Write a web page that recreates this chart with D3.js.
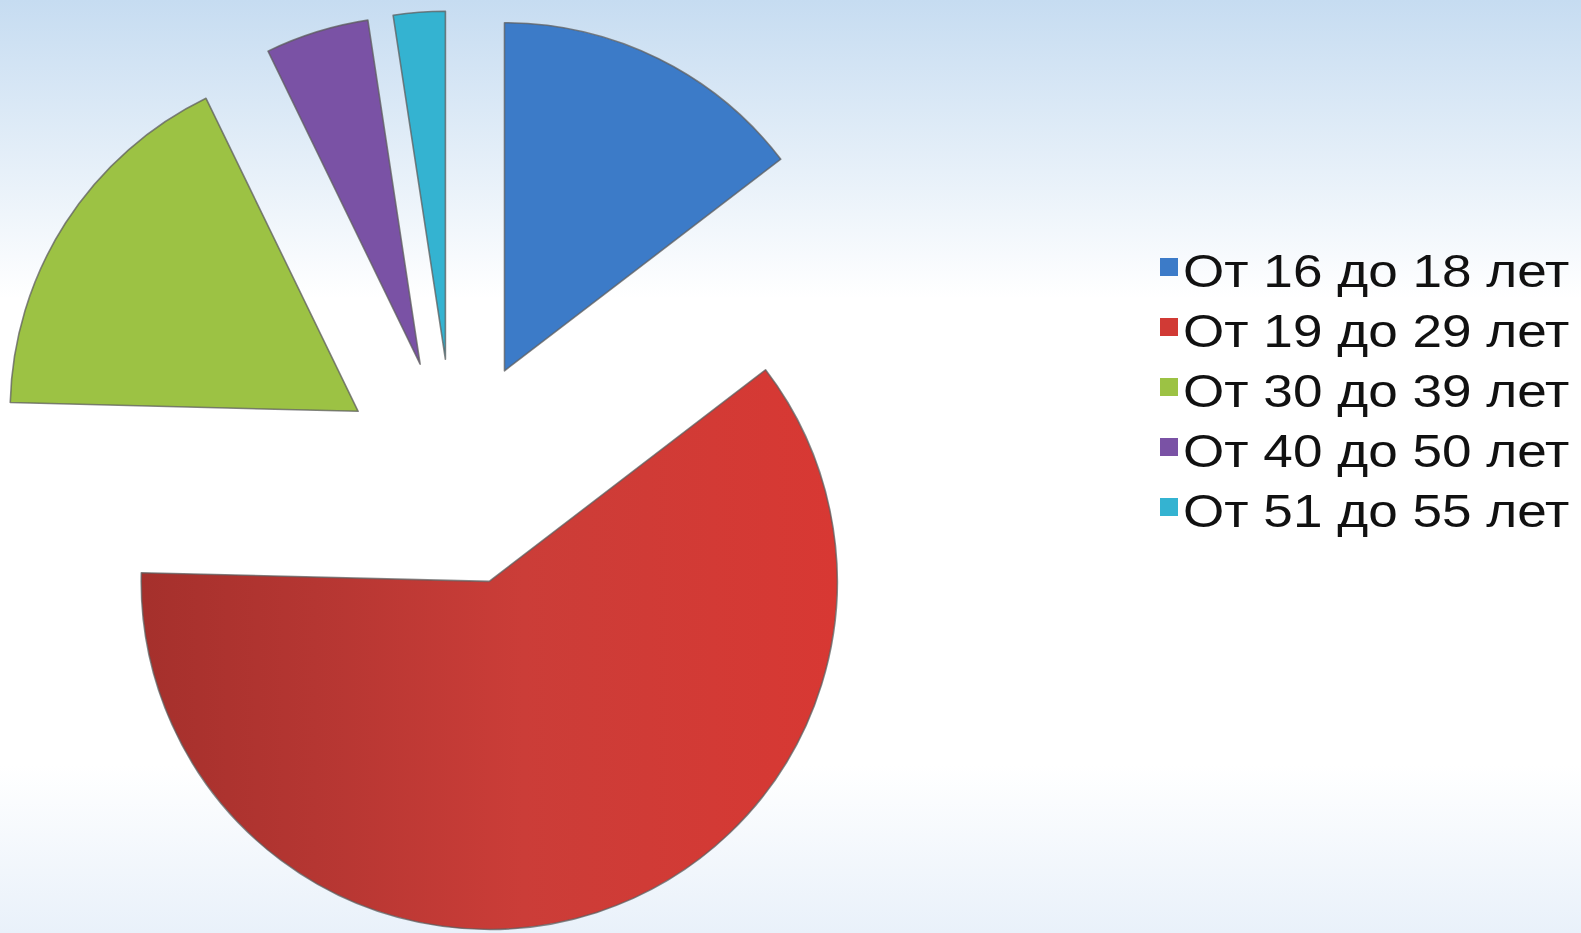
<!DOCTYPE html>
<html>
<head>
<meta charset="utf-8">
<script src="https://cdn.jsdelivr.net/npm/d3@7"></script>
<style>
  html, body { margin: 0; padding: 0; overflow: hidden; }
  svg { display: block; }
</style>
</head>
<body>
<svg id="chart"></svg>
<script>
// age groups and their shares (%)
var categories = ["От 16 до 18 лет", "От 19 до 29 лет", "От 30 до 39 лет", "От 40 до 50 лет", "От 51 до 55 лет"];
var shares = [14.6, 60.8, 17.4, 4.8, 2.4];
var colors = ["#3c7bc8", "#d13a35", "#9cc244", "#7a52a5", "#34b3d1"];

var w = 1581, h = 933;
var cx = 454, cy = 473, r = 348, explode = 114;

var svg = d3.select("#chart").attr("width", w).attr("height", h);
var defs = svg.append("defs");

// slide background
var bg = defs.append("linearGradient").attr("id", "bg")
  .attr("x1", 0).attr("y1", 0).attr("x2", 0).attr("y2", 1);
bg.append("stop").attr("offset", "0%").attr("stop-color", "#c6dcf1");
bg.append("stop").attr("offset", "32%").attr("stop-color", "#ffffff");
bg.append("stop").attr("offset", "82%").attr("stop-color", "#ffffff");
bg.append("stop").attr("offset", "100%").attr("stop-color", "#e9f1fa");
svg.append("rect").attr("width", w).attr("height", h).attr("fill", "url(#bg)");

// red slice shading, darker at the left (coords are local to the slice)
var rg = defs.append("linearGradient").attr("id", "redShade")
  .attr("gradientUnits", "userSpaceOnUse")
  .attr("x1", -r).attr("y1", 0).attr("x2", r).attr("y2", 0);
rg.append("stop").attr("offset", "0%").attr("stop-color", "#a5302c");
rg.append("stop").attr("offset", "25%").attr("stop-color", "#b53632");
rg.append("stop").attr("offset", "55%").attr("stop-color", "#cb3d38");
rg.append("stop").attr("offset", "100%").attr("stop-color", "#d83833");

var pie = d3.pie().sort(null).value(function(d) { return d; });
var arc = d3.arc().innerRadius(0).outerRadius(r);
var arcs = pie(shares);

svg.append("g")
  .attr("transform", "translate(" + cx + "," + cy + ")")
  .selectAll("path")
  .data(arcs)
  .enter()
  .append("path")
  .attr("d", arc)
  .attr("transform", function(d) {
    var a = (d.startAngle + d.endAngle) / 2;
    return "translate(" + (Math.sin(a) * explode) + "," + (-Math.cos(a) * explode) + ")";
  })
  .attr("fill", function(d, i) { return i == 1 ? "url(#redShade)" : colors[i]; })
  .attr("stroke", "#5e5e5e")
  .attr("stroke-opacity", 0.75)
  .attr("stroke-width", 1.6)
  .attr("stroke-linejoin", "round");

// legend
var legend = svg.append("g").attr("transform", "translate(1160,0)");
var item = legend.selectAll("g")
  .data(categories)
  .enter()
  .append("g")
  .attr("transform", function(d, i) { return "translate(0," + (287 + i * 60) + ")"; });

item.append("rect")
  .attr("x", 0).attr("y", -29)
  .attr("width", 18).attr("height", 18)
  .attr("fill", function(d, i) { return colors[i]; });

item.append("text")
  .attr("transform", "translate(23,0) scale(1.13,1)")
  .attr("font-family", "'Liberation Sans', Arial, sans-serif")
  .attr("font-size", "47px")
  .attr("fill", "#111")
  .text(function(d) { return d; });
</script>
</body>
</html>
